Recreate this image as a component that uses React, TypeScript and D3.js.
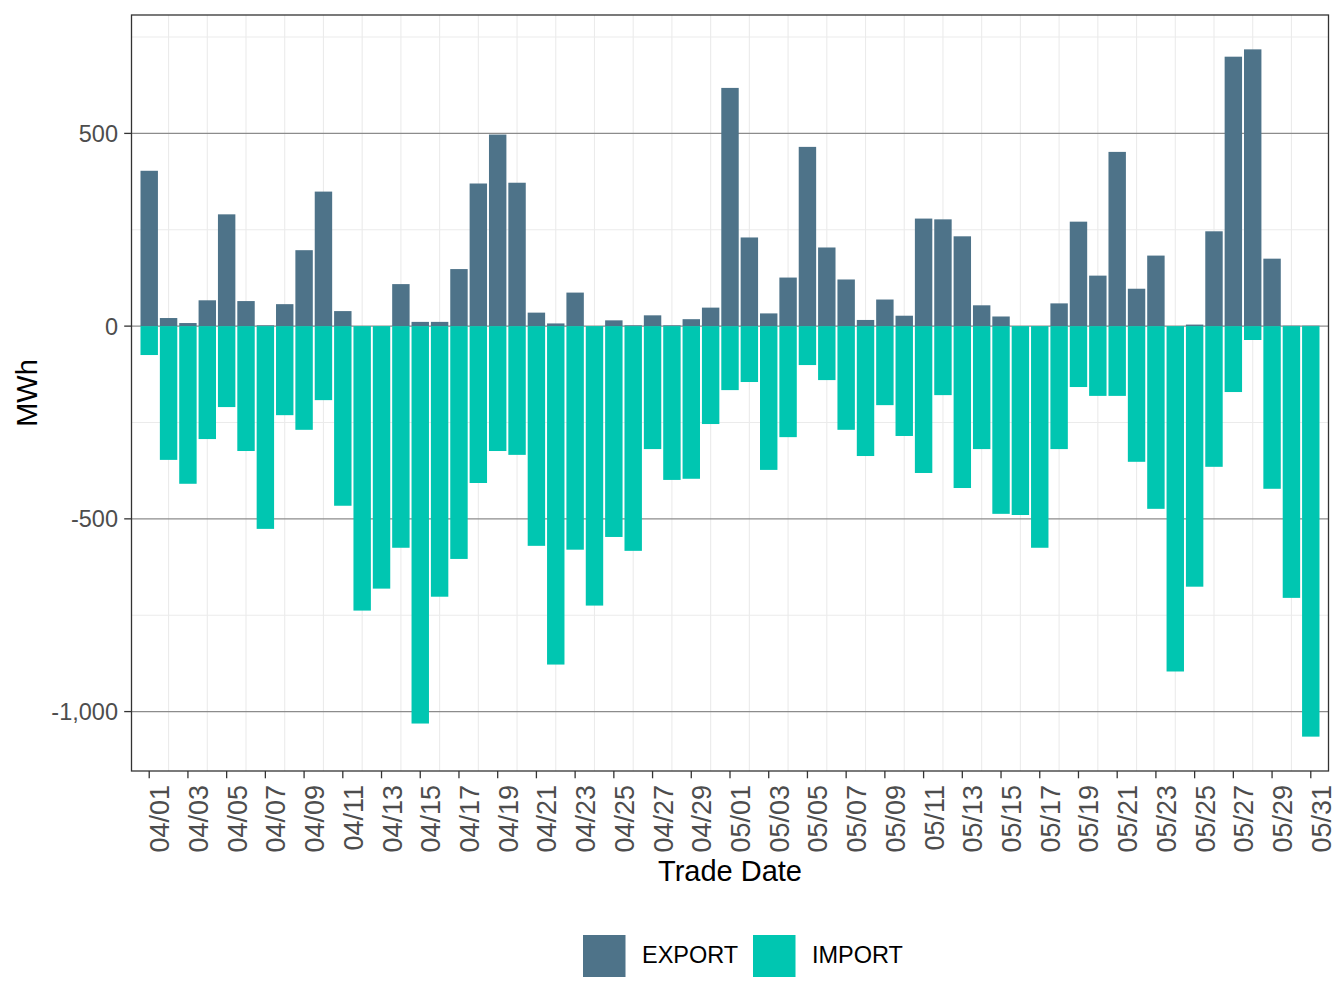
import React from "react";
import * as d3 from "d3";

// daily net flows, MWh (04/01 .. 05/31)
const exportMWh = [
  403, 21, 8, 67, 290, 65, 2, 57, 197, 349,
  39, 0, 0, 109, 11, 11, 148, 370, 497, 372,
  35, 7, 87, 0, 15, 2, 28, 2, 18, 48,
  618, 230, 33, 126, 465, 204, 121, 16, 69, 27,
  279, 277, 233, 54, 25, 0, 0, 59, 271, 131,
  452, 97, 183, 0, 4, 246, 699, 718, 175, 1, 1,
];

const importMWh = [
  -75, -347, -409, -293, -210, -324, -526, -231, -269, -192,
  -466, -738, -681, -575, -1031, -702, -604, -407, -324, -334,
  -570, -878, -580, -725, -547, -583, -319, -399, -396, -254,
  -166, -145, -373, -288, -101, -140, -269, -337, -205, -285,
  -381, -179, -420, -319, -487, -490, -575, -319, -158, -181,
  -181, -352, -474, -896, -676, -365, -171, -36, -422, -705, -1065,
];

const seriesNames = ["EXPORT", "IMPORT"];
const seriesColors = ["#4e7389", "#00c6b1"];

const fmtDay = d3.timeFormat("%m/%d");
const days = d3.timeDay.range(new Date(2023, 3, 1), new Date(2023, 5, 1)).map(fmtDay);
const tickDays = days.filter((_, i) => i % 2 === 0);
const minorDays = days.filter((_, i) => i % 2 === 1);

const W = 1344;
const H = 1008;
const margin = { top: 15, right: 15.5, bottom: 237, left: 131.5 };
const FONT = "'Liberation Sans', Arial, Helvetica, sans-serif";

const numFmt = d3.formatLocale({
  decimal: ".",
  thousands: ",",
  grouping: [3],
  currency: ["$", ""],
  minus: "-",
}).format(",");

const App = () => {
  const x0 = margin.left;
  const x1 = W - margin.right;
  const y0 = margin.top;
  const y1 = H - margin.bottom;

  const x = d3.scaleBand<string>().domain(days).range([x0, x1]).paddingInner(0.1).paddingOuter(0.465);

  const lo = d3.min(importMWh) as number;
  const hi = d3.max(exportMWh) as number;
  const pad = (hi - lo) * 0.05;
  const y = d3.scaleLinear().domain([lo - pad, hi + pad]).range([y1, y0]);

  const major = y.ticks(4);
  const step = major[1] - major[0];
  const minor = [major[0] - step / 2, ...major.map((t) => t + step / 2)].filter(
    (t) => t > y.domain()[0] && t < y.domain()[1]
  );

  const cx = (d: string) => (x(d) as number) + x.bandwidth() / 2;

  return (
    <div style={{ position: "absolute", left: 0, top: 0 }}>
      <svg width={W} height={H} style={{ display: "block", background: "#fff" }} fontFamily={FONT}>
        <rect x={x0} y={y0} width={x1 - x0} height={y1 - y0} fill="#fff" />
        {/* minor grid */}
        {minor.map((t) => (
          <line key={"ym" + t} x1={x0} x2={x1} y1={y(t)} y2={y(t)} stroke="#ebebeb" strokeWidth={1.1} />
        ))}
        {minorDays.map((d) => (
          <line key={"xm" + d} x1={cx(d)} x2={cx(d)} y1={y0} y2={y1} stroke="#ebebeb" strokeWidth={1.1} />
        ))}
        {/* major grid */}
        {major.map((t) => (
          <line key={"yM" + t} x1={x0} x2={x1} y1={y(t)} y2={y(t)} stroke="#8c8c8c" strokeWidth={1.2} />
        ))}

        {/* bars */}
        {days.map((d, i) => (
          <g key={d}>
            <rect
              x={x(d)}
              width={x.bandwidth()}
              y={y(Math.max(0, exportMWh[i]))}
              height={Math.abs(y(exportMWh[i]) - y(0))}
              fill={seriesColors[0]}
            />
            <rect
              x={x(d)}
              width={x.bandwidth()}
              y={y(0)}
              height={Math.abs(y(importMWh[i]) - y(0))}
              fill={seriesColors[1]}
            />
          </g>
        ))}

        <rect x={x0} y={y0} width={x1 - x0} height={y1 - y0} fill="none" stroke="#333" strokeWidth={1.3} />

        {/* y axis */}
        {major.map((t) => (
          <g key={"yt" + t}>
            <line x1={x0 - 7.3} x2={x0} y1={y(t)} y2={y(t)} stroke="#333" strokeWidth={1.3} />
            <text x={x0 - 13.5} y={y(t)} dy="0.36em" textAnchor="end" fontSize={23.5} fill="#4d4d4d">
              {numFmt(t)}
            </text>
          </g>
        ))}

        {/* x axis */}
        {tickDays.map((d) => (
          <g key={"xt" + d}>
            <line x1={cx(d)} x2={cx(d)} y1={y1} y2={y1 + 7.3} stroke="#333" strokeWidth={1.3} />
            <text
              transform={`translate(${cx(d)},${y1 + 14}) rotate(-90)`}
              dy="0.74em"
              textAnchor="end"
              fontSize={27}
              fill="#4d4d4d"
            >
              {d}
            </text>
          </g>
        ))}

        <text x={(x0 + x1) / 2} y={881} textAnchor="middle" fontSize={29} fill="#000">
          Trade Date
        </text>
        <text transform={`translate(36.5,${(y0 + y1) / 2}) rotate(-90)`} textAnchor="middle" fontSize={29} fill="#000">
          MWh
        </text>

        {/* legend */}
        {seriesNames.map((s, i) => {
          const kx = [583, 753][i];
          return (
            <g key={s}>
              <rect x={kx} y={935} width={42.5} height={42} fill={seriesColors[i]} />
              <text x={kx + 59} y={963.3} fontSize={23.5} fill="#000">
                {s}
              </text>
            </g>
          );
        })}
      </svg>
    </div>
  );
};

export default App;
